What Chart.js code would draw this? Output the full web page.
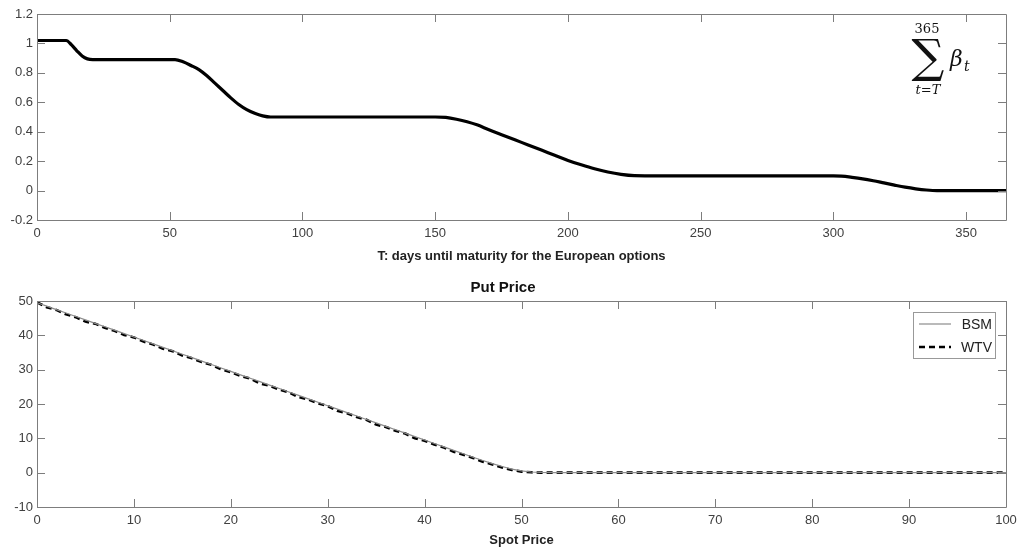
<!DOCTYPE html>
<html>
<head>
<meta charset="utf-8">
<script src="https://cdn.jsdelivr.net/npm/chart.js@4.4.1/dist/chart.umd.min.js"></script>
<style>
  html, body { margin: 0; padding: 0; background: #fff; }
  #wrap { position: relative; width: 1021px; height: 550px; }
  canvas { position: absolute; left: 0; }
</style>
</head>
<body>
<div id="wrap">
  <canvas id="betaChart" width="1021" height="268" style="top:0"></canvas>
  <canvas id="putChart" width="1021" height="282" style="top:268px"></canvas>
</div>
<script>
// top panel: cumulative beta vs days to maturity
const dayT = [0, 5, 11, 13, 15, 17, 19, 21, 30, 40, 52, 55, 58, 61, 64, 67, 70, 73, 76, 79, 82, 85, 88, 91,
  100, 120, 140, 150, 154, 158, 162, 166, 170, 175, 180, 185, 190, 195, 200, 205, 210, 215, 220, 225, 229,
  240, 260, 280, 300, 303, 307, 311, 315, 319, 323, 327, 331, 335, 339, 345, 365];
const betaSum = [1.02, 1.02, 1.02, 0.99, 0.95, 0.915, 0.895, 0.89, 0.89, 0.89, 0.89, 0.875, 0.85, 0.822, 0.78, 0.73, 0.68, 0.63, 0.585, 0.55, 0.525, 0.508, 0.5, 0.5,
  0.5, 0.5, 0.5, 0.5, 0.497, 0.485, 0.468, 0.445, 0.415, 0.38, 0.345, 0.31, 0.275, 0.24, 0.205, 0.175, 0.148, 0.126, 0.11, 0.101, 0.1,
  0.1, 0.1, 0.1, 0.1, 0.098, 0.09, 0.08, 0.067, 0.052, 0.037, 0.023, 0.012, 0.004, 0, 0, 0];

// bottom panel: put price vs spot
const spotPrice = [0, 1, 2, 3, 4, 5, 6, 7, 8, 9, 10, 11, 12, 13, 14, 15, 16, 17, 18, 19, 20,
  21, 22, 23, 24, 25, 26, 27, 28, 29, 30, 31, 32, 33, 34, 35, 36, 37, 38, 39, 40,
  41, 42, 43, 44, 45, 46, 47, 48, 49, 50, 51, 52, 53, 54, 55,
  60, 65, 70, 75, 80, 85, 90, 95, 100];
const putBSM = [49.5, 48.5, 47.5, 46.5, 45.5, 44.5, 43.5, 42.5, 41.5, 40.5, 39.5, 38.5, 37.5, 36.5, 35.5, 34.5, 33.5, 32.5, 31.5, 30.5, 29.5,
  28.5, 27.5, 26.5, 25.5, 24.5, 23.5, 22.5, 21.5, 20.5, 19.5, 18.5, 17.5, 16.5, 15.5, 14.5, 13.5, 12.5, 11.5, 10.5, 9.5,
  8.5, 7.5, 6.5, 5.5, 4.5, 3.55, 2.65, 1.8, 1.05, 0.5, 0.2, 0.07, 0.02, 0, 0,
  0, 0, 0, 0, 0, 0, 0, 0, 0];
const putWTV = [49.6, 48.2, 47.4, 46.1, 45.3, 44.0, 43.4, 42.2, 41.3, 40.1, 39.4, 38.2, 37.3, 36.1, 35.4, 34.1, 33.3, 32.2, 31.4, 30.1, 29.3,
  28.2, 27.4, 26.0, 25.3, 24.2, 23.4, 22.0, 21.3, 20.2, 19.4, 18.0, 17.3, 16.2, 15.4, 14.0, 13.3, 12.2, 11.4, 10.0, 9.3,
  8.2, 7.3, 6.1, 5.2, 4.3, 3.2, 2.4, 1.5, 0.8, 0.3, 0.1, 0.02, 0, 0, 0,
  0, 0, 0, 0, 0, 0, 0, 0, 0];

const tickColor = '#404040';
const frameColor = '#7d7d7d';
const sansFont = '"Liberation Sans", Arial, Helvetica, sans-serif';

// matlab style frame with inward ticks on all four sides
const boxTicks = {
  id: 'boxTicks',
  afterDraw(chart) {
    const { ctx, chartArea: a, scales } = chart;
    const len = 8;
    ctx.save();
    ctx.strokeStyle = frameColor;
    ctx.lineWidth = 1;
    ctx.beginPath();
    ctx.rect(Math.round(a.left) + 0.5, Math.round(a.top) + 0.5, Math.round(a.right - a.left), Math.round(a.bottom - a.top));
    scales.x.ticks.forEach(t => {
      const px = Math.round(scales.x.getPixelForValue(t.value)) + 0.5;
      ctx.moveTo(px, a.bottom); ctx.lineTo(px, a.bottom - len);
      ctx.moveTo(px, a.top); ctx.lineTo(px, a.top + len);
    });
    scales.y.ticks.forEach(t => {
      const py = Math.round(scales.y.getPixelForValue(t.value)) + 0.5;
      ctx.moveTo(a.left, py); ctx.lineTo(a.left + len, py);
      ctx.moveTo(a.right, py); ctx.lineTo(a.right - len, py);
    });
    ctx.stroke();
    ctx.restore();
  }
};

// the latex label in the top panel
const sumLabel = {
  id: 'sumLabel',
  afterDraw(chart) {
    const { ctx } = chart;
    ctx.save();
    ctx.fillStyle = '#111';
    ctx.textAlign = 'center';
    ctx.textBaseline = 'alphabetic';
    ctx.font = '13px "DejaVu Serif", serif';
    ctx.fillText('365', 927, 33);
    ctx.font = '46px "DejaVu Serif", serif';
    ctx.fillText('\u2211', 928, 72);
    ctx.font = 'italic 13px "DejaVu Serif", serif';
    ctx.fillText('t=T', 928, 94);
    ctx.textAlign = 'left';
    ctx.font = 'italic 22px "DejaVu Serif", serif';
    ctx.fillText('\u03B2', 950, 66);
    ctx.font = 'italic 14px "DejaVu Serif", serif';
    ctx.fillText('t', 964, 71);
    ctx.restore();
  }
};

// legend box inside the bottom panel
const boxLegend = {
  id: 'boxLegend',
  afterDraw(chart) {
    const { ctx } = chart;
    const x0 = 913, y0 = 44, w = 82, h = 46;
    ctx.save();
    ctx.fillStyle = '#fff';
    ctx.fillRect(x0, y0, w, h);
    ctx.strokeStyle = '#999';
    ctx.lineWidth = 1;
    ctx.strokeRect(x0 + 0.5, y0 + 0.5, w, h);
    ctx.font = '14px ' + sansFont;
    ctx.textBaseline = 'middle';
    ctx.textAlign = 'right';
    chart.data.datasets.forEach((ds, i) => {
      const y = y0 + 12 + i * 23;
      ctx.strokeStyle = ds.borderColor;
      ctx.lineWidth = ds.borderWidth;
      ctx.setLineDash(ds.borderDash || []);
      ctx.beginPath();
      ctx.moveTo(x0 + 6, y); ctx.lineTo(x0 + 38, y);
      ctx.stroke();
      ctx.setLineDash([]);
      ctx.fillStyle = '#222';
      ctx.fillText(ds.label, x0 + w - 3, y + 1);
    });
    ctx.restore();
  }
};

const fmtTick = v => String(Math.round(v * 10) / 10 + 0);

function axisX(min, max, step, title, titlePad, height) {
  return {
    type: 'linear', min: min, max: max,
    grid: { display: false, drawTicks: false },
    border: { display: false },
    ticks: { stepSize: step, includeBounds: false, padding: 6, color: tickColor, font: { family: sansFont, size: 13 }, callback: fmtTick },
    title: { display: true, text: title, color: '#222', font: { family: sansFont, size: 13, weight: 'bold' }, padding: titlePad },
    afterFit(s) { s.height = height; s.paddingRight = 0; s.paddingLeft = 0; }
  };
}

function axisY(min, max, step) {
  return {
    type: 'linear', min: min, max: max,
    grid: { display: false, drawTicks: false },
    border: { display: false },
    ticks: { stepSize: step, padding: 4, color: tickColor, font: { family: sansFont, size: 13 }, callback: fmtTick },
    afterFit(s) { s.width = 37; }
  };
}

const pts = (xs, ys) => xs.map((x, i) => ({ x: x, y: ys[i] }));

new Chart(document.getElementById('betaChart'), {
  type: 'line',
  data: {
    datasets: [{
      label: 'sum beta',
      data: pts(dayT, betaSum),
      borderColor: '#000',
      borderWidth: 3.2,
      pointRadius: 0,
      cubicInterpolationMode: 'monotone',
      fill: false
    }]
  },
  options: {
    responsive: false,
    animation: false,
    layout: { padding: { top: 14, right: 15, left: 0, bottom: 0 } },
    plugins: { legend: { display: false }, tooltip: { enabled: false } },
    scales: {
      x: axisX(0, 365, 50, 'T: days until maturity for the European options', { top: 2, bottom: 4 }, 48),
      y: axisY(-0.2, 1.2, 0.2)
    }
  },
  plugins: [boxTicks, sumLabel]
});

new Chart(document.getElementById('putChart'), {
  type: 'line',
  data: {
    datasets: [{
      label: 'BSM',
      data: pts(spotPrice, putBSM),
      borderColor: '#8c8c8c',
      borderWidth: 1.2,
      pointRadius: 0,
      tension: 0,
      fill: false
    }, {
      label: 'WTV',
      data: pts(spotPrice, putWTV),
      borderColor: '#000',
      borderWidth: 2.6,
      borderDash: [6, 4],
      pointRadius: 0,
      tension: 0,
      fill: false
    }]
  },
  options: {
    responsive: false,
    animation: false,
    layout: { padding: { top: 0, right: 15, left: 0, bottom: 0 } },
    plugins: {
      legend: { display: false },
      tooltip: { enabled: false },
      title: {
        display: true, text: 'Put Price', color: '#111',
        font: { family: sansFont, size: 15, weight: 'bold' },
        padding: { top: 11, bottom: 4 }
      }
    },
    scales: {
      x: axisX(0, 100, 10, 'Spot Price', { top: 2, bottom: 2 }, 43),
      y: axisY(-10, 50, 10)
    }
  },
  plugins: [boxTicks, boxLegend]
});
</script>
</body>
</html>
